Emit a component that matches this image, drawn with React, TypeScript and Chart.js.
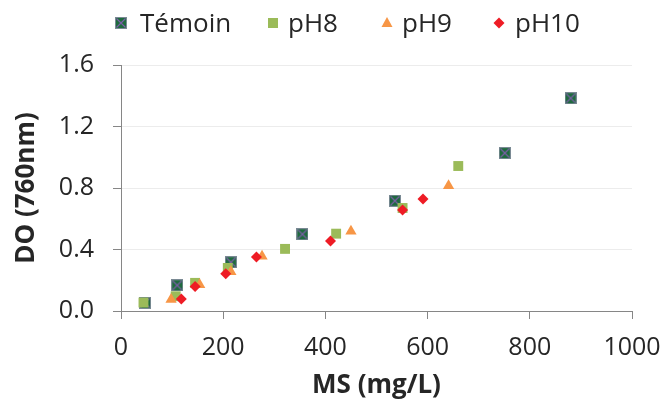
import React, { useEffect, useRef } from 'react';
import { Chart, registerables } from 'chart.js';

Chart.register(...registerables);

const seriesNames = ['Témoin', 'pH8', 'pH9', 'pH10'];

const temoinX = [47, 110, 215, 355, 536, 751, 880];
const temoinY = [0.053, 0.167, 0.317, 0.499, 0.717, 1.027, 1.384];

const ph8X = [44, 107, 145, 209, 321, 421, 551, 660];
const ph8Y = [0.055, 0.096, 0.183, 0.28, 0.404, 0.503, 0.67, 0.943];

const ph9X = [98, 154, 215, 276, 450, 641];
const ph9Y = [0.075, 0.17, 0.255, 0.356, 0.518, 0.815];

const ph10X = [118, 145, 205, 265, 410, 551, 591];
const ph10Y = [0.078, 0.16, 0.242, 0.352, 0.456, 0.657, 0.729];

const xTicksMax = 1000;
const xStep = 200;
const yTicksMax = 1.6;
const yStep = 0.4;

const COLORS = {
  temoinFill: '#1E6B3E',
  temoinBorder: '#7A8A94',
  temoinCross: '#7B5EA7',
  ph8: '#9BBB59',
  ph9: '#F79646',
  ph10: '#EE1C25',
  text: '#262626',
  axis: '#868686',
  grid: '#ECECEC',
};

const FONT = "'Open Sans', 'Liberation Sans', sans-serif";

function makeTemoinMarker(): HTMLCanvasElement {
  const c = document.createElement('canvas');
  c.width = 12;
  c.height = 12;
  const g = c.getContext('2d')!;
  g.fillStyle = COLORS.temoinBorder;
  g.fillRect(0, 0, 12, 12);
  g.fillStyle = COLORS.temoinFill;
  g.fillRect(1, 1, 10, 10);
  g.strokeStyle = COLORS.temoinCross;
  g.lineWidth = 1.2;
  g.beginPath();
  g.moveTo(1.5, 1.5);
  g.lineTo(10.5, 10.5);
  g.moveTo(10.5, 1.5);
  g.lineTo(1.5, 10.5);
  g.stroke();
  return c;
}

function toPoints(xs: number[], ys: number[]) {
  return xs.map((x, i) => ({ x, y: ys[i] }));
}

export default function App() {
  const ref = useRef<HTMLCanvasElement>(null);

  useEffect(() => {
    const canvas = ref.current;
    if (!canvas) return;
    const marker = makeTemoinMarker();

    const legendPlugin = {
      id: 'customLegend',
      afterDraw(chart: any) {
        const ctx = chart.ctx as CanvasRenderingContext2D;
        ctx.save();
        const my = 23;
        const markersX = [120.5, 273, 387, 499];
        const textX = [140, 288, 402, 515];
        ctx.drawImage(marker, Math.round(markersX[0] - 6), Math.round(my - 6));
        ctx.fillStyle = COLORS.ph8;
        ctx.fillRect(markersX[1] - 5, my - 5, 10, 10);
        ctx.fillStyle = COLORS.ph9;
        ctx.beginPath();
        ctx.moveTo(markersX[2], my - 6);
        ctx.lineTo(markersX[2] + 5.5, my + 4);
        ctx.lineTo(markersX[2] - 5.5, my + 4);
        ctx.closePath();
        ctx.fill();
        ctx.fillStyle = COLORS.ph10;
        ctx.beginPath();
        ctx.moveTo(markersX[3], my - 5.5);
        ctx.lineTo(markersX[3] + 5.5, my);
        ctx.lineTo(markersX[3], my + 5.5);
        ctx.lineTo(markersX[3] - 5.5, my);
        ctx.closePath();
        ctx.fill();

        ctx.fillStyle = COLORS.text;
        ctx.font = `26px ${FONT}`;
        ctx.textBaseline = 'alphabetic';
        ctx.textAlign = 'left';
        seriesNames.forEach((n, i) => ctx.fillText(n, textX[i], 32));
        ctx.restore();
      },
    };

    const chart = new Chart(canvas, {
      type: 'scatter',
      data: {
        datasets: [
          {
            label: seriesNames[0],
            data: toPoints(temoinX, temoinY),
            pointStyle: marker,
            pointRadius: 6,
            backgroundColor: COLORS.temoinFill,
            borderWidth: 0,
            order: 4,
          },
          {
            label: seriesNames[1],
            data: toPoints(ph8X, ph8Y),
            pointStyle: 'rect',
            pointRadius: 7,
            backgroundColor: COLORS.ph8,
            borderColor: COLORS.ph8,
            pointBorderWidth: 0,
            borderWidth: 0,
            order: 3,
          },
          {
            label: seriesNames[2],
            data: toPoints(ph9X, ph9Y),
            pointStyle: 'triangle',
            pointRadius: 6.5,
            backgroundColor: COLORS.ph9,
            borderColor: COLORS.ph9,
            pointBorderWidth: 0,
            borderWidth: 0,
            order: 2,
          },
          {
            label: seriesNames[3],
            data: toPoints(ph10X, ph10Y),
            pointStyle: 'rectRot',
            pointRadius: 5.5,
            backgroundColor: COLORS.ph10,
            borderColor: COLORS.ph10,
            pointBorderWidth: 0,
            borderWidth: 0,
            order: 1,
          },
        ],
      },
      options: {
        animation: false,
        responsive: false,
        devicePixelRatio: 1,
        events: [],
        layout: { padding: { top: 65, right: 34, bottom: 0, left: 0 } },
        plugins: {
          legend: { display: false },
          tooltip: { enabled: false },
        },
        scales: {
          x: {
            type: 'linear',
            min: 0,
            max: xTicksMax,
            ticks: {
              stepSize: xStep,
              color: COLORS.text,
              font: { family: FONT, size: 25 },
              padding: 14,
              maxRotation: 0,
              callback: (v: any) => String(v),
            },
            grid: {
              drawOnChartArea: false,
              drawTicks: true,
              tickLength: 8,
              color: COLORS.axis,
            },
            border: { color: COLORS.axis, width: 1 },
            title: {
              display: true,
              text: 'MS (mg/L)',
              color: COLORS.text,
              font: { family: FONT, size: 26, weight: 'bold', lineHeight: 1.1 },
              padding: { top: 0, bottom: 0 },
            },
            afterFit: (s: any) => {
              s.height = 89;
              s.paddingRight = 0;
              s.paddingLeft = 0;
            },
          },
          y: {
            type: 'linear',
            min: 0,
            max: yTicksMax,
            ticks: {
              stepSize: yStep,
              color: COLORS.text,
              font: { family: FONT, size: 25 },
              padding: 19,
              callback: (v: any) => Number(v).toFixed(1),
            },
            grid: {
              color: COLORS.grid,
              tickColor: COLORS.axis,
              tickLength: 8,
            },
            border: { color: COLORS.axis, width: 1 },
            title: {
              display: true,
              text: 'DO (760nm)',
              color: COLORS.text,
              font: { family: FONT, size: 26, weight: 'bold', lineHeight: 1.2 },
              padding: { top: 11, bottom: 0 },
            },
            afterFit: (s: any) => {
              s.width = 121;
            },
          },
        },
      },
      plugins: [legendPlugin],
    } as any);

    return () => chart.destroy();
  }, []);

  return (
    <div style={{ position: 'absolute', left: 0, top: 0, width: 666, height: 400 }}>
      <canvas ref={ref} width={666} height={400} style={{ display: 'block', width: 666, height: 400 }} />
    </div>
  );
}
